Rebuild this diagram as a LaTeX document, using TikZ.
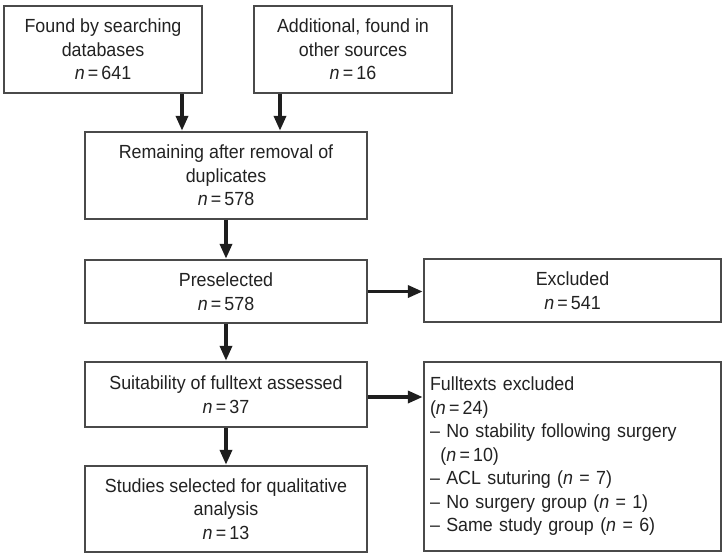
\documentclass[tikz,border=0pt]{standalone}
\usepackage{fontspec}
\setmainfont[FakeStretch=0.94]{Liberation Sans}
\usetikzlibrary{arrows.meta,calc}
\definecolor{boxline}{HTML}{4A4A4A}
\definecolor{arrowcol}{HTML}{1E1E1E}
\definecolor{txt}{HTML}{222222}
\tikzset{
  box/.style={draw=boxline, line width=1.3pt, fill=white, align=center,
    inner sep=0pt, text=txt, font=\fontsize{19}{23.5}\selectfont},
  arr/.style={draw=arrowcol, line width=3.6pt,
    -{Triangle[length=15pt,width=12pt]}, shorten >=0.6pt}
}
\newcommand{\nn}{\textit{n}}
\begin{document}
\begin{tikzpicture}[x=1pt,y=-1pt]
\useasboundingbox (0,0) rectangle (723,558);
\node[box, minimum width=198pt, minimum height=87pt] (b1) at (103,49.5)
  {Found by searching\\databases\\\nn\,=\,641};
\node[box, minimum width=198pt, minimum height=87pt] (b2) at (353,49.5)
  {Additional, found in\\other sources\\\nn\,=\,16};
\node[box, minimum width=282pt, minimum height=87pt] (b3) at (226,175.5)
  {Remaining after removal of\\duplicates\\\nn\,=\,578};
\node[box, minimum width=282pt, minimum height=63pt] (b4) at (226,291.5)
  {Preselected\\\nn\,=\,578};
\node[box, minimum width=297pt, minimum height=63pt] (b5) at (572.5,290.5)
  {Excluded\\\nn\,=\,541};
\node[box, minimum width=282pt, minimum height=65pt] (b6) at (226,394.5)
  {Suitability of fulltext assessed\\\nn\,=\,37};
\node[box, minimum width=282pt, minimum height=86pt] (b7) at (226,509)
  {Studies selected for qualitative\\analysis\\\nn\,=\,13};
\node[box, minimum width=297pt, minimum height=189pt, align=left,
  text width=285pt, inner xsep=6pt] (b8) at (572.5,456.5)
  {Fulltexts excluded\\
   (\nn\,=\,24)\\
   – No stability following surgery\\
   \hspace*{0.55em}(\nn\,=\,10)\\
   – ACL suturing (\nn{} = 7)\\
   – No surgery group (\nn{} = 1)\\
   – Same study group (\nn{} = 6)};
\coordinate (c1) at (182,0);
\coordinate (c2) at (280,0);
\draw[arr] (b1.south -| c1) -- (b3.north -| c1);
\draw[arr] (b2.south -| c2) -- (b3.north -| c2);
\draw[arr] (b3.south) -- (b4.north);
\draw[arr] (b4.south) -- (b6.north);
\draw[arr] (b6.south) -- (b7.north);
\draw[arr] (b4.east) -- (b4.east -| b5.west);
\coordinate (c3) at (0,397);
\draw[arr] (b6.east |- c3) -- (b8.west |- c3);
\end{tikzpicture}
\end{document}
